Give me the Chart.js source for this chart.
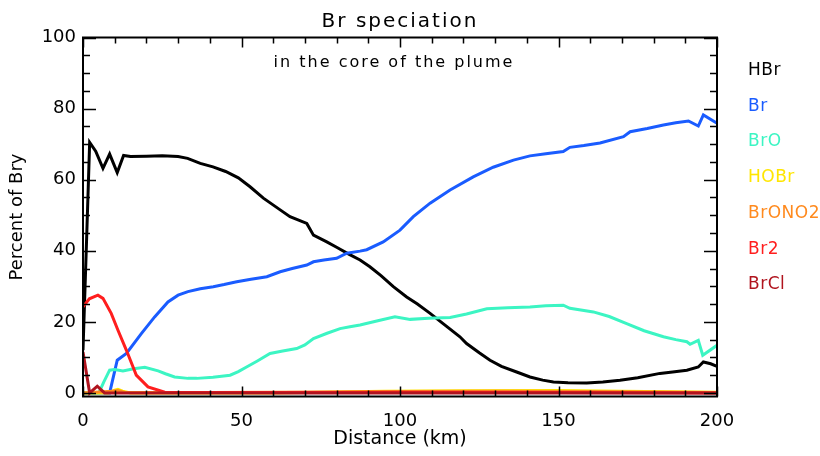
<!DOCTYPE html>
<html>
<head>
<meta charset="utf-8">
<title>Br speciation</title>
<script src="https://cdn.jsdelivr.net/npm/chart.js@4.4.1/dist/chart.umd.min.js"></script>
<style>
  html, body { margin: 0; padding: 0; background: #fff; }
  #wrap { width: 820px; height: 456px; }
</style>
</head>
<body>
<div id="wrap"><canvas id="chart" width="820" height="456"></canvas></div>
<script>
'use strict';

/* ---------- 1. DATA (distance km / percent of Bry) ---------- */
const speciesNames = ['HBr', 'Br', 'BrO', 'HOBr', 'BrONO2', 'Br2', 'BrCl'];
const speciesColors = ['#000000', '#1a5cff', '#3cf5c3', '#ffe600', '#ff8a1e', '#ff1e1e', '#b0141e'];
const yTickValues = [0, 20, 40, 60, 80, 100];

const hbrKm  = [0, 1.2, 2.1, 4, 6.3, 8.4, 10.8, 12.8, 15, 20, 25, 30, 33, 37, 41, 45, 49, 52.7, 56.9, 62.2, 65.3, 70.6, 72.7, 76.9, 80, 84, 87.4, 90.5, 94, 97.9, 102.1, 105.5, 109.5, 114, 118.9, 121, 125, 128.4, 132, 136.8, 141, 145, 148.4, 153, 158.9, 164, 169.4, 175, 182, 186, 190.5, 194.1, 195.7, 198, 200];
const hbrPct = [12, 45, 70.5, 68, 63.2, 67.2, 62, 66.8, 66.5, 66.6, 66.7, 66.5, 66, 64.6, 63.6, 62.3, 60.5, 58, 54.8, 51.5, 49.6, 47.7, 44.4, 42.5, 41, 39, 37.4, 35.5, 33, 29.9, 27, 25, 22.4, 19.2, 15.8, 13.9, 11.3, 9.2, 7.5, 5.9, 4.5, 3.6, 3.1, 2.9, 2.8, 3.1, 3.6, 4.3, 5.5, 5.9, 6.4, 7.3, 8.7, 8.2, 7.5];

const brKm  = [0, 8.4, 10.8, 13.7, 18.4, 22.6, 26.8, 30, 33.1, 37, 41.1, 44.5, 48.5, 53, 58, 62.2, 66, 70.6, 72.7, 76, 80, 83.2, 87.4, 89.5, 94.7, 100, 104.2, 109.5, 115.8, 123.1, 129.4, 135.8, 141, 146, 151.5, 153.6, 158, 163.1, 170.5, 172.6, 178, 183.1, 187, 191, 194.1, 195.7, 200];
const brPct = [0, 0, 9.2, 11.1, 16.7, 21.4, 25.6, 27.5, 28.5, 29.3, 29.9, 30.5, 31.3, 32, 32.7, 34.1, 35, 36, 36.9, 37.4, 37.9, 39.3, 39.9, 40.3, 42.5, 45.8, 49.6, 53.4, 57.1, 60.8, 63.5, 65.5, 66.7, 67.3, 67.9, 69.1, 69.6, 70.3, 72.1, 73.5, 74.4, 75.4, 76, 76.5, 75.1, 78.2, 75.9];

const broKm  = [0, 5, 6.5, 8.4, 10, 12.6, 16, 19.5, 23.7, 26, 28.9, 33.1, 35.9, 41, 46.4, 49, 51.6, 55, 59, 63, 67.4, 70, 72.7, 77, 81.1, 84.2, 87.4, 93, 98.4, 103.2, 109, 115.8, 121, 127.4, 134, 141, 146, 151.5, 153.6, 161, 166, 171.5, 177, 183.1, 187, 190.5, 191.5, 194.1, 195.5, 200];
const broPct = [0, 0, 3, 6.4, 6.6, 6.2, 6.8, 7.2, 6.2, 5.4, 4.5, 4.1, 4.1, 4.4, 5, 6, 7.3, 9, 11.1, 11.8, 12.5, 13.5, 15.3, 16.8, 18.1, 18.6, 19.1, 20.3, 21.4, 20.7, 21, 21.2, 22.2, 23.7, 24, 24.2, 24.5, 24.7, 23.8, 22.8, 21.5, 19.5, 17.5, 15.8, 15, 14.4, 13.7, 14.8, 10.6, 13.4];

const hobrKm  = [0, 8, 10, 11, 12.5, 15, 60, 80, 95, 120, 150, 170, 200];
const hobrPct = [0, 0, 0.8, 1.0, 0.5, 0, 0, 0.3, 0.5, 0.6, 0.7, 0.5, 0.2];

const brono2Km  = [0, 9, 11, 13, 40, 80, 100, 130, 160, 200];
const brono2Pct = [0, 0.5, 0.7, 0.2, 0.1, 0.3, 0.4, 0.5, 0.4, 0.1];

const br2Km  = [0, 2, 4.7, 6.3, 8.9, 11, 13.7, 16.8, 20.5, 25.8, 60, 100, 150, 200];
const br2Pct = [24.2, 26.5, 27.5, 26.6, 22.4, 17.7, 12, 5, 1.7, 0.2, 0.1, 0.2, 0.1, 0];

const brclKm  = [0, 2.1, 4.5, 6.8, 50, 100, 150, 200];
const brclPct = [11.5, 0, 1.9, 0, 0, 0, 0, 0];

/* ---------- 2. HELPERS ---------- */
const FONT = '"DejaVu Sans", "Liberation Sans", sans-serif';
const toPoints = (xs, ys) => xs.map((x, i) => ({ x: x, y: ys[i] }));

const seriesKm  = [hbrKm, brKm, broKm, hobrKm, brono2Km, br2Km, brclKm];
const seriesPct = [hbrPct, brPct, broPct, hobrPct, brono2Pct, br2Pct, brclPct];

const datasets = speciesNames.map((name, i) => ({
  label: name,
  data: toPoints(seriesKm[i], seriesPct[i]),
  borderColor: speciesColors[i],
  backgroundColor: speciesColors[i],
  borderWidth: 3,
  pointRadius: 0,
  tension: 0,
  fill: false,
  order: speciesNames.length - i   // later species drawn on top, like the original
}));

/* ---------- 3. FRAME, INWARD TICKS, TEXTS ---------- */
const framePlugin = {
  id: 'idlFrame',
  afterDraw(chart) {
    const { ctx, chartArea: a, scales: { x, y } } = chart;
    ctx.save();
    ctx.strokeStyle = '#000';
    ctx.lineWidth = 2;
    ctx.strokeRect(a.left, a.top, a.right - a.left, a.bottom - a.top);

    ctx.lineWidth = 1.5;
    ctx.beginPath();
    // x ticks every 10 km, major every 50
    for (let v = 0; v <= 200; v += 10) {
      const px = Math.round(x.getPixelForValue(v)) + 0.5;
      const len = v % 50 === 0 ? 10 : 6;
      ctx.moveTo(px, a.bottom); ctx.lineTo(px, a.bottom - len);
      ctx.moveTo(px, a.top);    ctx.lineTo(px, a.top + len);
    }
    // y ticks every 5 %, major every 20
    for (let v = 0; v <= 100; v += 5) {
      const py = Math.round(y.getPixelForValue(v)) + 0.5;
      const len = v % 20 === 0 ? 13 : 7;
      ctx.moveTo(a.left, py);  ctx.lineTo(a.left + len, py);
      ctx.moveTo(a.right, py); ctx.lineTo(a.right - len, py);
    }
    ctx.stroke();

    // title + subtitle (spaced lettering)
    const cx = (a.left + a.right) / 2;
    ctx.fillStyle = '#000';
    ctx.textBaseline = 'alphabetic';
    ctx.textAlign = 'center';
    ctx.letterSpacing = '2px';
    ctx.font = '20px ' + FONT;
    ctx.fillText('Br speciation', cx, 27);
    ctx.font = '16px ' + FONT;
    ctx.fillText('in the core of the plume', cx - 6, 67);

    // legend on the right, coloured text only
    ctx.textAlign = 'left';
    ctx.letterSpacing = '0.5px';
    ctx.font = '17px ' + FONT;
    speciesNames.forEach((name, i) => {
      ctx.fillStyle = speciesColors[i];
      ctx.fillText(name, a.right + 31, 75 + i * 35.7);
    });
    ctx.restore();
  }
};

/* ---------- 4. CHART ---------- */
new Chart(document.getElementById('chart').getContext('2d'), {
  type: 'line',
  data: { datasets: datasets },
  plugins: [framePlugin],
  options: {
    responsive: false,
    animation: false,
    layout: { padding: { top: 37.5, right: 103, left: 0, bottom: 0 } },
    plugins: {
      legend: { display: false },
      tooltip: { enabled: false },
      title: { display: false }
    },
    scales: {
      x: {
        type: 'linear',
        min: 0,
        max: 200,
        grid: { display: false, drawTicks: false },
        border: { display: false },
        ticks: { stepSize: 50, padding: 14, color: '#000', font: { family: FONT, size: 18 }, maxRotation: 0 },
        title: { display: true, text: 'Distance (km)', color: '#000', font: { family: FONT, size: 19 }, padding: { bottom: 6, top: 0 } },
        afterFit(scale) { scale.height = 59.5; }
      },
      y: {
        type: 'linear',
        min: -1,
        max: 100,
        grid: { display: false, drawTicks: false },
        border: { display: false },
        ticks: { padding: 7, color: '#000', font: { family: FONT, size: 18 } },
        afterBuildTicks(scale) { scale.ticks = yTickValues.map(v => ({ value: v })); },
        title: { display: true, text: 'Percent of Bry', color: '#000', font: { family: FONT, size: 18 }, padding: { top: 7, bottom: 0 } },
        afterFit(scale) { scale.width = 83; }
      }
    }
  }
});
</script>
</body>
</html>
